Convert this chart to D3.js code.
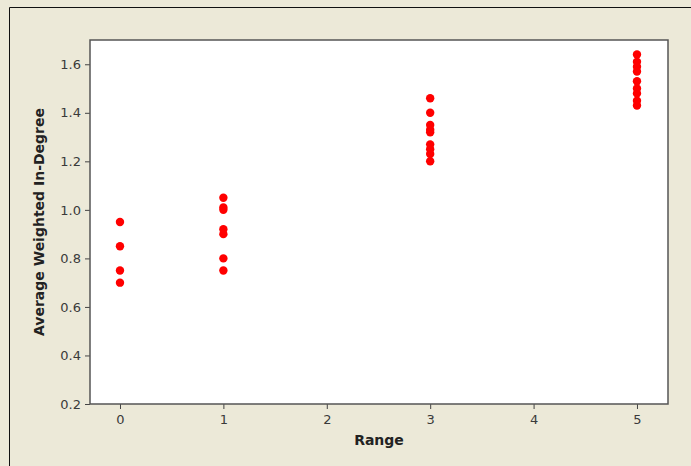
<!DOCTYPE html>
<html>
<head>
<meta charset="utf-8">
<script src="https://cdn.jsdelivr.net/npm/d3@7"></script>
<style>
  body { margin: 0; background: #ece9d8; }
  svg { display: block; }
</style>
</head>
<body>
<svg id="chart" width="691" height="466"></svg>
<script>
// observed values per range
const range0 = [0.95, 0.85, 0.75, 0.70];
const range1 = [1.05, 1.01, 1.00, 0.92, 0.90, 0.80, 0.75];
const range3 = [1.46, 1.40, 1.35, 1.33, 1.32, 1.27, 1.25, 1.23, 1.20];
const range5 = [1.64, 1.61, 1.59, 1.57, 1.53, 1.50, 1.48, 1.45, 1.43];

const ranges = [0, 1, 3, 5];
const groups = [range0, range1, range3, range5];
const xTicks = [0, 1, 2, 3, 4, 5];
const yTicks = [0.2, 0.4, 0.6, 0.8, 1.0, 1.2, 1.4, 1.6];

const points = [];
groups.forEach((vals, i) => {
  vals.forEach(v => points.push({ x: ranges[i], y: v }));
});

const svg = d3.select('#chart');
const margin = { top: 40, right: 23, bottom: 62, left: 90 };
const width = 691 - margin.left - margin.right;
const height = 466 - margin.top - margin.bottom;

// outer frame (dark top/left)
svg.append('path')
    .attr('d', 'M9.5,466V7.5H691')
    .attr('fill', 'none')
    .attr('stroke', '#111');

const g = svg.append('g')
    .attr('transform', `translate(${margin.left},${margin.top})`);

const x = d3.scaleLinear()
    .domain([-0.29, 5.3])
    .range([0, width]);
const y = d3.scaleLinear()
    .domain([0.2, 1.7])
    .range([height, 0]);

g.append('rect')
    .attr('width', width)
    .attr('height', height)
    .attr('fill', '#fff');

const xAxis = g.append('g')
    .attr('transform', `translate(0,${height})`)
    .call(d3.axisBottom(x).tickValues(xTicks).tickFormat(d3.format('d')).tickSize(5).tickPadding(6));
const yAxis = g.append('g')
    .call(d3.axisLeft(y).tickValues(yTicks).tickFormat(d3.format('.1f')).tickSize(5).tickPadding(4));

[xAxis, yAxis].forEach(a => {
  a.select('.domain').remove();
  a.selectAll('line').attr('stroke', '#444');
  a.selectAll('text')
      .attr('fill', '#3a3a3a')
      .style('font-family', '"DejaVu Sans", sans-serif')
      .style('font-size', '13px');
});

g.append('rect')
    .attr('width', width)
    .attr('height', height)
    .attr('fill', 'none')
    .attr('stroke', '#555')
    .attr('stroke-width', 1.5);

g.selectAll('circle.pt')
    .data(points)
    .join('circle')
    .attr('class', 'pt')
    .attr('cx', d => x(d.x))
    .attr('cy', d => y(d.y))
    .attr('r', 4.2)
    .attr('fill', '#f00');

g.append('text')
    .attr('x', width / 2)
    .attr('y', height + 41)
    .attr('text-anchor', 'middle')
    .attr('fill', '#222')
    .style('font-family', '"DejaVu Sans", sans-serif')
    .style('font-weight', 'bold')
    .style('font-size', '14px')
    .text('Range');

g.append('text')
    .attr('transform', `translate(-46,${height / 2}) rotate(-90)`)
    .attr('text-anchor', 'middle')
    .attr('fill', '#222')
    .style('font-family', '"DejaVu Sans", sans-serif')
    .style('font-weight', 'bold')
    .style('font-size', '14px')
    .text('Average Weighted In-Degree');
</script>
</body>
</html>
